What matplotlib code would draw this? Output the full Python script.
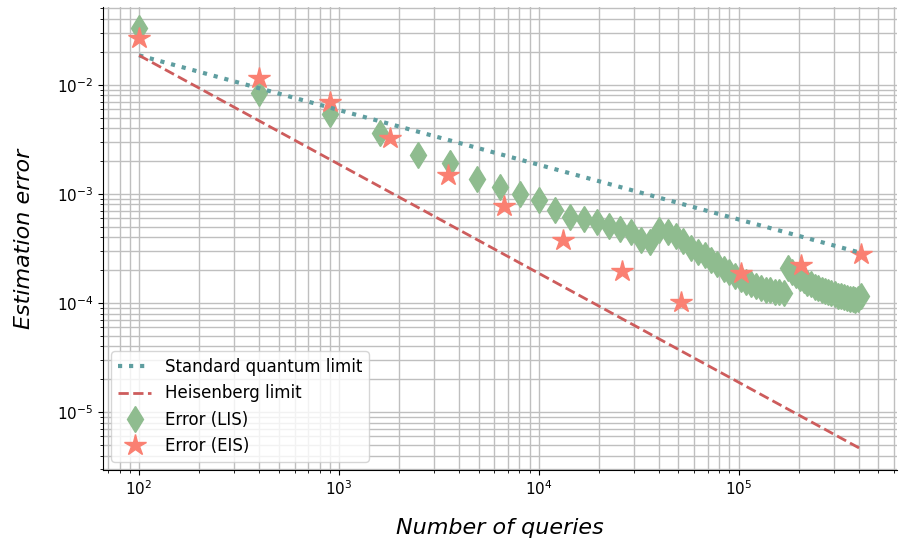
import matplotlib
matplotlib.use("Agg")
import matplotlib.pyplot as plt

# Reference limits drawn between the first and last query budgets
limit_queries = [100, 409600]
sql_error = [0.0186, 2.88e-4]
heisenberg_error = [0.0186, 4.6e-6]

# Linearly incremental schedule (LIS): budgets are (10 k)^2
lis_queries = [
    100, 400, 900, 1600, 2500, 3600, 4900, 6400, 8100, 10000,
    12100, 14400, 16900, 19600, 22500, 25600, 28900, 32400, 36100, 40000,
    44100, 48400, 52900, 57600, 62500, 67600, 72900, 78400, 84100, 90000,
    96100, 102400, 108900, 115600, 122500, 129600, 136900, 144400, 152100, 160000,
    168100, 176400, 184900, 193600, 202500, 211600, 220900, 230400, 240100, 250000,
    260100, 270400, 280900, 291600, 302500, 313600, 324900, 336400, 348100, 360000,
    372100, 384400, 396900, 409600,
]
lis_error = [
    0.0331, 0.00843, 0.00545, 0.00365, 0.00228, 0.00192, 0.00137, 0.00116, 0.000993, 0.000873,
    0.000719, 0.000619, 0.000590, 0.000550, 0.000513, 0.000479, 0.000447, 0.000381, 0.000362, 0.000468,
    0.000444, 0.000408, 0.000368, 0.000322, 0.000292, 0.000274, 0.000250, 0.000230, 0.000205, 0.000193,
    0.000176, 0.000166, 0.000155, 0.000150, 0.000142, 0.000138, 0.000132, 0.000131, 0.000127, 0.000127,
    0.000124, 0.000208, 0.000193, 0.000182, 0.000170, 0.000161, 0.000153, 0.000148, 0.000141, 0.000138,
    0.000132, 0.000130, 0.000126, 0.000123, 0.000121, 0.000117, 0.000116, 0.000113, 0.000111, 0.000109,
    0.000108, 0.000107, 0.000108, 0.000116,
]

# Exponentially incremental schedule (EIS)
eis_queries = [100, 400, 900, 1800, 3500, 6700, 13200, 26000, 51500, 103000, 205000, 409600]
eis_error = [0.0269, 0.01145, 0.00695, 0.00325, 0.00149, 0.000778, 0.000381, 0.000197,
             0.000102, 0.000188, 0.000223, 0.000279]

fig = plt.figure(figsize=(8.99, 5.40), dpi=100)
ax = fig.add_axes([103 / 899, 1 - 470 / 540, (897 - 103) / 899, (470 - 7) / 540])

ax.plot(limit_queries, sql_error, linestyle=":", color="cadetblue", linewidth=3,
        label="Standard quantum limit", zorder=4)
ax.plot(limit_queries, heisenberg_error, linestyle="--", color="indianred", linewidth=2,
        label="Heisenberg limit", zorder=4)
ax.plot(lis_queries, lis_error, linestyle="none", marker="d", markersize=13,
        color="darkseagreen", label="Error (LIS)", zorder=2)
ax.plot(eis_queries, eis_error, linestyle="none", marker="*", markersize=16,
        color="salmon", label="Error (EIS)", zorder=3)

ax.set_xscale("log")
ax.set_yscale("log")
ax.grid(True, which="both", color="0.75", linewidth=1)
ax.spines["top"].set_visible(False)
ax.spines["right"].set_visible(False)
ax.tick_params(axis="both", which="major", labelsize=11)

ax.set_xlabel("Number of queries", fontsize=16, fontstyle="italic", labelpad=14)
ax.set_ylabel("Estimation error", fontsize=16, fontstyle="italic", labelpad=16)

ax.legend(loc="lower left", fontsize=12)

fig.savefig("out.png", dpi=100)
